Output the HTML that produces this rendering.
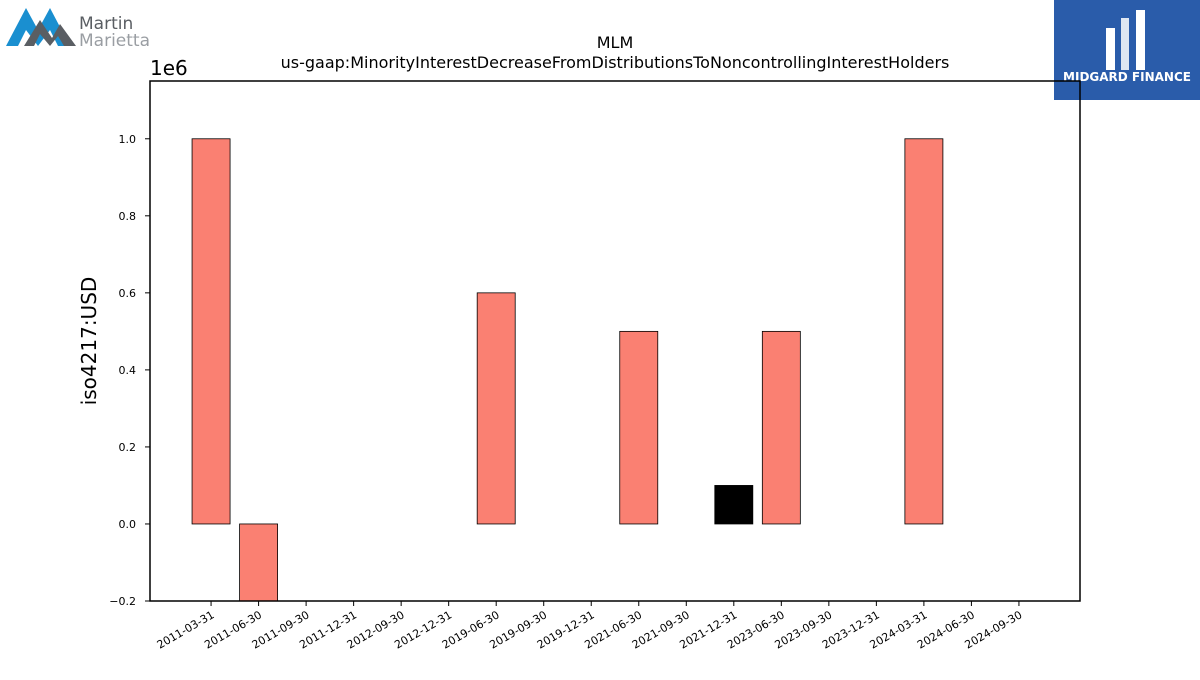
<!DOCTYPE html>
<html><head><meta charset="utf-8"><style>
body{margin:0;background:#fff;width:1200px;height:675px;overflow:hidden;font-family:"Liberation Sans","DejaVu Sans",sans-serif;}
svg text{font-family:"DejaVu Sans","Liberation Sans",sans-serif;}
</style></head><body>
<svg id="chart" width="1200" height="675">
  <g>
    <polygon points="6,46 26,8 38,30 50,8 70,46 58,46 50,30 38,46 26,30 18,46" fill="#1a8fd0"/>
    <polygon points="24,46 40,20 52,38 60,24 76,46 64,46 58,36 50,46 40,34 34,46" fill="#5a5e63"/>
    <text x="79" y="29" font-size="17" fill="#5a5e63">Martin</text>
    <text x="79" y="46" font-size="17" fill="#9a9ea3">Marietta</text>
  </g>
  <g>
    <rect x="1054" y="0" width="146" height="100" fill="#2a5caa"/>
    <rect x="1106" y="28" width="9" height="42" fill="#fff"/>
    <rect x="1121" y="18" width="8" height="52" fill="#fff" opacity="0.85"/>
    <rect x="1136" y="10" width="9" height="60" fill="#fff"/>
    <text x="1127" y="81" font-size="12" font-weight="bold" fill="#fff" text-anchor="middle">MIDGARD FINANCE</text>
  </g>
  <text x="615" y="48" font-size="16" text-anchor="middle">MLM</text>
  <text x="615" y="68" font-size="16" text-anchor="middle">us-gaap:MinorityInterestDecreaseFromDistributionsToNoncontrollingInterestHolders</text>
  <text x="150" y="75" font-size="20">1e6</text>
  <text x="96" y="341" font-size="20" text-anchor="middle" transform="rotate(-90 96 341)">iso4217:USD</text>
  <g id="bars"></g>
  <g id="yaxis"></g>
  <g id="xaxis"></g>
  <rect x="150" y="81" width="930" height="520" fill="none" stroke="#000" stroke-width="1.5"/>
</svg>
<script>
const categories=["2011-03-31","2011-06-30","2011-09-30","2011-12-31","2012-09-30","2012-12-31","2019-06-30","2019-09-30","2019-12-31","2021-06-30","2021-09-30","2021-12-31","2023-06-30","2023-09-30","2023-12-31","2024-03-31","2024-06-30","2024-09-30"];
const values=[1000000,-200000,0,0,0,0,600000,0,0,500000,0,100000,500000,0,0,1000000,0,0];
const highlight=[0,0,0,0,0,0,0,0,0,0,0,1,0,0,0,0,0,0];
const yTicks=[-0.2,0,0.2,0.4,0.6,0.8,1.0];
const yTickLabels=["\u22120.2","0.0","0.2","0.4","0.6","0.8","1.0"];
const ns="http://www.w3.org/2000/svg";
const L=150,R=1080,T=81,B=601,yMin=-0.2e6,yMax=1.15e6;
const y=v=>B-(v-yMin)/(yMax-yMin)*(B-T);
const step=(R-L)/(categories.length+1.57);
const x=i=>L+step*1.285+i*step;
const bw=step*0.8;
function el(t,a){const e=document.createElementNS(ns,t);for(const k in a)e.setAttribute(k,a[k]);return e;}
const gb=document.getElementById('bars'),gy=document.getElementById('yaxis'),gx=document.getElementById('xaxis');
values.forEach((v,i)=>{
  const y0=y(0),y1=y(v);
  const r=el('rect',{x:x(i)-bw/2,y:Math.min(y0,y1),width:bw,height:Math.abs(y1-y0),fill:highlight[i]?'#000':'#fa8072',stroke:'#000','stroke-width':0.8});
  
  
  gb.appendChild(r);
  const tk=el('line',{x1:x(i),x2:x(i),y1:B,y2:B+5,stroke:'#000'});
  
  
  gx.appendChild(tk);
  const tx=el('text',{x:x(i)+4,y:B+16,'font-size':11,'text-anchor':'end',transform:`rotate(-30 ${x(i)+4} ${B+16})`});
  tx.textContent=categories[i];
  
  
  gx.appendChild(tx);
});
yTicks.forEach((t,i)=>{
  const yy=y(t*1e6);
  const tk=el('line',{x1:L-5,x2:L,y1:yy,y2:yy,stroke:'#000'});
  
  
  gy.appendChild(tk);
  const tx=el('text',{x:L-14,y:yy+4,'font-size':11,'text-anchor':'end'});
  tx.textContent=yTickLabels[i];
  
  
  gy.appendChild(tx);
});
</script>
</body></html>
